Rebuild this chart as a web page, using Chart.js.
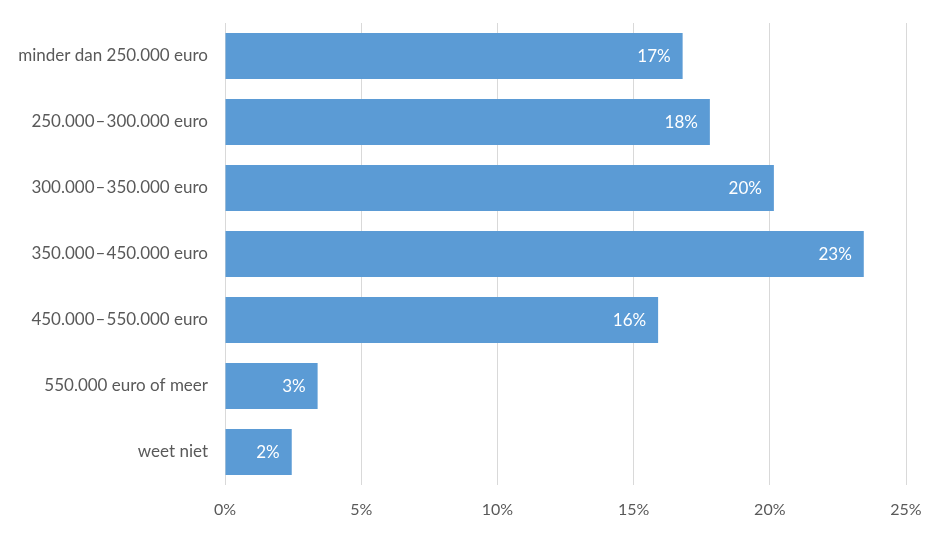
<!DOCTYPE html>
<html>
<head>
<meta charset="utf-8">
<script src="https://cdn.jsdelivr.net/npm/chart.js@4"></script>
<style>
  html, body { margin: 0; padding: 0; background: #fff; }
  #wrap { width: 946px; height: 534px; }
</style>
</head>
<body>
<div id="wrap"><canvas id="c" width="946" height="534"></canvas></div>
<script>
// -------- Data ----------
const categories = [
  "minder dan 250.000 euro",
  "250.000\u200a\u2013\u200a300.000 euro",
  "300.000\u200a\u2013\u200a350.000 euro",
  "350.000\u200a\u2013\u200a450.000 euro",
  "450.000\u200a\u2013\u200a550.000 euro",
  "550.000 euro of meer",
  "weet niet"
];
const shares = [16.8, 17.8, 20.15, 23.45, 15.9, 3.4, 2.45];
const xTicks = [0, 5, 10, 15, 20, 25];

const FONT = "Lato, 'Open Sans', sans-serif";
const GREY = "#595959";

// value labels inside the end of each bar
const barLabels = {
  id: "barLabels",
  afterDatasetsDraw(chart) {
    const ctx = chart.ctx;
    const meta = chart.getDatasetMeta(0);
    ctx.save();
    ctx.font = `17px ${FONT}`;
    ctx.fillStyle = "#ffffff";
    ctx.textAlign = "right";
    ctx.textBaseline = "middle";
    meta.data.forEach((bar, i) => {
      ctx.fillText(Math.round(shares[i]) + "%", bar.x - 12, bar.y + 1);
    });
    ctx.restore();
  }
};

new Chart(document.getElementById("c"), {
  type: "bar",
  data: {
    labels: categories,
    datasets: [{
      data: shares,
      backgroundColor: "#5b9bd5",
      categoryPercentage: 0.7,
      barPercentage: 1
    }]
  },
  options: {
    indexAxis: "y",
    responsive: false,
    animation: false,
    layout: { padding: { top: 23, right: 40, bottom: 0, left: 0 } },
    plugins: { legend: { display: false }, tooltip: { enabled: false } },
    scales: {
      x: {
        min: 0, max: 25,
        afterBuildTicks: (s) => { s.ticks = xTicks.map(v => ({ value: v })); },
        afterFit: (s) => { s.height = 49; },
        grid: { color: "#d9d9d9", drawTicks: false },
        border: { display: false },
        ticks: {
          color: GREY,
          font: { family: FONT, size: 16 },
          padding: 15,
          callback: (v) => v + "%"
        }
      },
      y: {
        afterFit: (s) => { s.width = 225; },
        // gap between labels and bars comes from tickLength, not tick padding
        grid: { display: false, drawTicks: true, tickLength: 17 },
        border: { display: false },
        ticks: {
          color: GREY,
          font: { family: FONT, size: 17 },
          padding: 0
        }
      }
    }
  },
  plugins: [barLabels]
});
</script>
</body>
</html>
